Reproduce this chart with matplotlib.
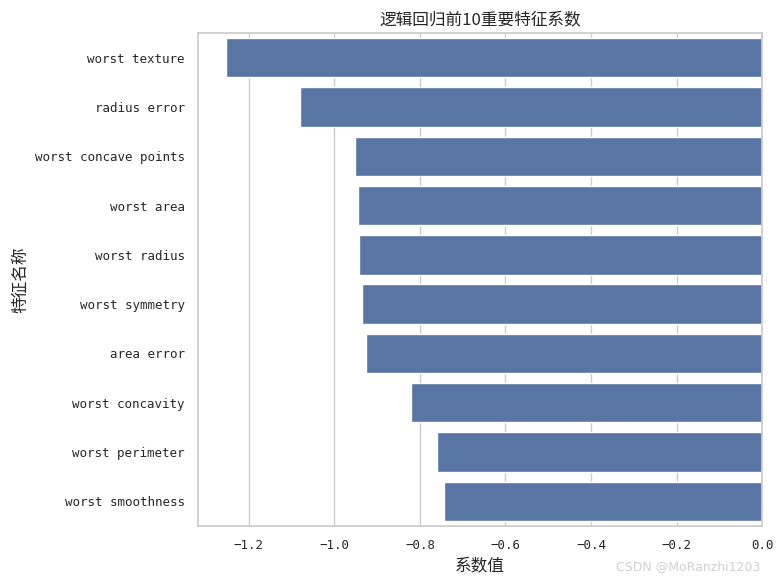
import matplotlib
matplotlib.use('Agg')
import matplotlib.pyplot as plt
import seaborn as sns
import pandas as pd

features = ['worst texture', 'radius error', 'worst concave points', 'worst area',
            'worst radius', 'worst symmetry', 'area error', 'worst concavity',
            'worst perimeter', 'worst smoothness']
coefs = [-1.254, -1.080, -0.951, -0.944, -0.943, -0.935, -0.926, -0.820, -0.760, -0.743]

df = pd.DataFrame({'特征名称': features, '系数值': coefs})

sns.set_theme(style='whitegrid')
plt.rcParams['font.family'] = ['DejaVu Sans Mono', 'Noto Sans CJK SC']
plt.rcParams['axes.unicode_minus'] = True

fig = plt.figure(figsize=(7.84, 5.84), dpi=100)
ax = fig.add_subplot(111)
fig.subplots_adjust(left=0.2526, right=0.972, top=0.9435, bottom=0.0993)

sns.barplot(data=df, x='系数值', y='特征名称', color='#4c72b0', ax=ax)
ax.set_title('逻辑回归前10重要特征系数', family=['Noto Sans CJK SC'], fontsize=12)
ax.set_xlabel('系数值', family=['Noto Sans CJK SC'], fontsize=12)
ax.set_ylabel('特征名称', family=['Noto Sans CJK SC'], fontsize=12)
ax.tick_params(labelsize=9)
ax.set_xlim(-1.319, 0)

# watermark
fig.text(0.97, 0.018, 'CSDN @MoRanzhi1203', ha='right', va='bottom',
         color='#d0d0d0', fontsize=9, family=['DejaVu Sans'])

plt.savefig('out.png', dpi=100)
